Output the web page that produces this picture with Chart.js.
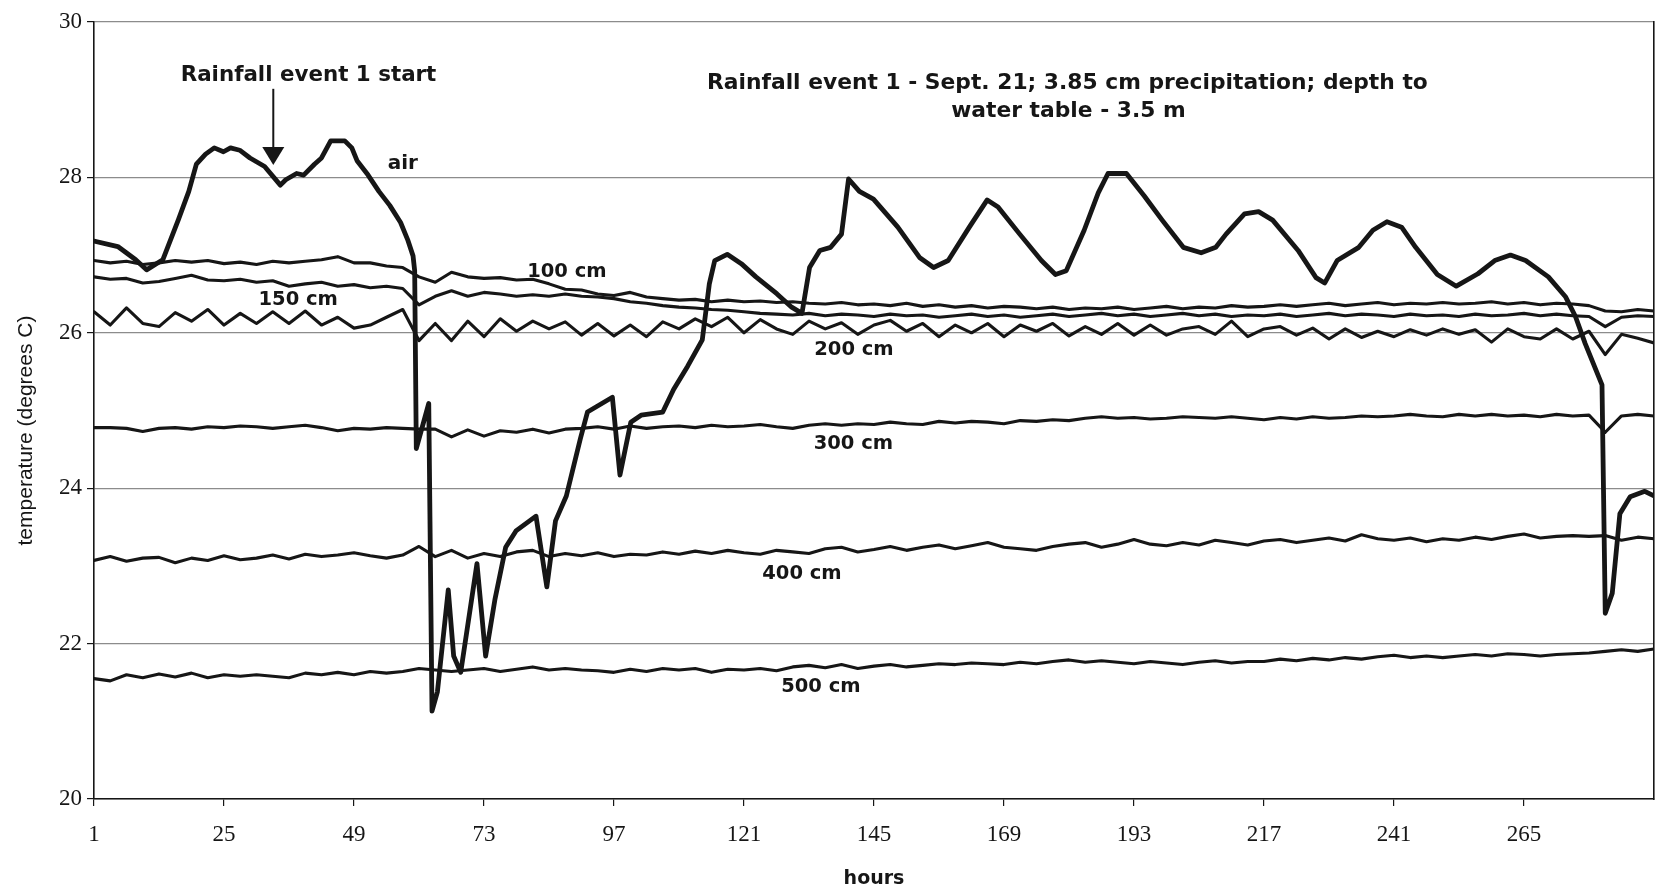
<!DOCTYPE html>
<html>
<head>
<meta charset="utf-8">
<title>Soil temperature - rainfall event 1</title>
<script src="https://cdn.jsdelivr.net/npm/chart.js@4.4.1/dist/chart.umd.min.js"></script>
<style>
  html, body { margin: 0; padding: 0; background: #fff; }
  #wrap { width: 1659px; height: 895px; }
</style>
</head>
<body>
<div id="wrap"><canvas id="tempChart"></canvas></div>
<script>
// x axis tick labels (hours)
const hourTicks = [1, 25, 49, 73, 97, 121, 145, 169, 193, 217, 241, 265];

// air temperature at its turning points
const airHours = [
  1, 5.4, 8.7, 10.7, 13.7, 16.6, 18.5, 19.9, 21.6, 23.2,
  24.9, 26.2, 27.9, 29.8, 32.5, 35.4, 36.4, 38.4, 39.7, 41.7,
  43.0, 44.7, 47.3, 48.6, 49.6, 51.6, 53.6, 55.6, 57.6, 58.9,
  59.9, 60.2, 60.5, 62.8, 63.4, 64.4, 66.4, 67.4, 68.7, 71.7,
  73.3, 75.0, 77.0, 78.9, 82.6, 84.6, 86.2, 88.2, 90.8, 92.1,
  96.7, 98.1, 100.1, 102, 106, 108, 110.6, 113.3, 114.6, 115.6,
  117.9, 120.5, 123.2, 127.1, 129.8, 131.7, 133.1, 135, 137, 139,
  140.3, 142.3, 144.9, 149.4, 153.4, 156, 158.7, 162.6, 165.9, 167.9,
  171.9, 175.9, 178.5, 180.5, 183.8, 186.4, 188.2, 191.6, 194.9, 198.2,
  202.1, 205.4, 208.1, 210, 213.4, 216, 218.6, 223.3, 226.6, 228.2,
  230.5, 234.5, 237.1, 239.7, 242.4, 245, 249, 252.5, 256.5, 259.6,
  262.5, 265.3, 269.5, 272.7, 274.5, 276.3, 279.4, 280.0, 281.3, 282.7,
  284.6, 287.3, 289
];
const airTemp = [
  27.18, 27.11, 26.94, 26.81, 26.94, 27.46, 27.82, 28.17, 28.3, 28.38,
  28.33, 28.38, 28.35, 28.25, 28.14, 27.9, 27.97, 28.05, 28.03, 28.17,
  28.25, 28.47, 28.47, 28.38, 28.21, 28.03, 27.82, 27.64, 27.42, 27.2,
  26.99, 26.8, 24.51, 25.09, 21.13, 21.38, 22.69, 21.84, 21.63, 23.03,
  21.84, 22.56, 23.24, 23.45, 23.64, 22.73, 23.58, 23.9, 24.64, 24.98,
  25.17, 24.17, 24.85, 24.94, 24.98, 25.27, 25.57, 25.91, 26.63, 26.93,
  27.01, 26.89, 26.72, 26.5, 26.33, 26.25, 26.84, 27.06, 27.1, 27.27,
  27.98, 27.82, 27.72, 27.36, 26.97, 26.84, 26.93, 27.36, 27.71, 27.62,
  27.27, 26.93, 26.75, 26.8, 27.32, 27.8, 28.05, 28.05, 27.76, 27.45,
  27.1, 27.03, 27.1, 27.27, 27.53, 27.56, 27.45, 27.06, 26.71, 26.64,
  26.93, 27.1, 27.32, 27.43, 27.36, 27.1, 26.75, 26.6, 26.76, 26.93,
  27.0, 26.93, 26.72, 26.46, 26.21, 25.86, 25.33, 22.39, 22.65, 23.67,
  23.89, 23.96, 23.9
];

// soil probes, read every 3 hours (1, 4, 7 ... 289); one row = one day
const soilHours = Array.from({ length: 97 }, (_, i) => 1 + 3 * i);

const t100 = [
  26.93, 26.9, 26.92, 26.88, 26.9, 26.93, 26.91, 26.93,
  26.89, 26.91, 26.88, 26.92, 26.9, 26.92, 26.94, 26.98,
  26.9, 26.9, 26.86, 26.84, 26.72, 26.65, 26.78, 26.72,
  26.7, 26.71, 26.68, 26.69, 26.63, 26.56, 26.55, 26.5,
  26.48, 26.52, 26.46, 26.44, 26.42, 26.43, 26.4, 26.42,
  26.4, 26.41, 26.39, 26.4, 26.38, 26.37, 26.39, 26.36,
  26.37, 26.35, 26.38, 26.34, 26.36, 26.33, 26.35, 26.32,
  26.34, 26.33, 26.31, 26.33, 26.3, 26.32, 26.31, 26.33,
  26.3, 26.32, 26.34, 26.31, 26.33, 26.32, 26.35, 26.33,
  26.34, 26.36, 26.34, 26.36, 26.38, 26.35, 26.37, 26.39,
  26.36, 26.38, 26.37, 26.39, 26.37, 26.38, 26.4, 26.37,
  26.39, 26.36, 26.38, 26.37, 26.35, 26.28, 26.27, 26.3,
  26.28
];
const t150 = [
  26.72, 26.69, 26.7, 26.64, 26.66, 26.7, 26.74, 26.68,
  26.67, 26.69, 26.65, 26.67, 26.6, 26.63, 26.65, 26.6,
  26.62, 26.58, 26.6, 26.57, 26.36, 26.47, 26.54, 26.47,
  26.52, 26.5, 26.47, 26.49, 26.47, 26.5, 26.47, 26.46,
  26.44, 26.4, 26.38, 26.35, 26.33, 26.32, 26.3, 26.29,
  26.27, 26.25, 26.24, 26.23, 26.25, 26.22, 26.24, 26.23,
  26.21, 26.24, 26.22, 26.23, 26.2, 26.22, 26.24, 26.21,
  26.23, 26.2, 26.22, 26.24, 26.21, 26.23, 26.25, 26.22,
  26.24, 26.21, 26.23, 26.25, 26.22, 26.24, 26.21, 26.23,
  26.22, 26.24, 26.21, 26.23, 26.25, 26.22, 26.24, 26.23,
  26.21, 26.24, 26.22, 26.23, 26.21, 26.24, 26.22, 26.23,
  26.25, 26.22, 26.24, 26.22, 26.21, 26.08, 26.2, 26.22,
  26.21
];
const t200 = [
  26.27, 26.1, 26.32, 26.12, 26.08, 26.26, 26.15, 26.3,
  26.1, 26.25, 26.12, 26.27, 26.12, 26.28, 26.1, 26.2,
  26.06, 26.1, 26.2, 26.3, 25.9, 26.12, 25.9, 26.15,
  25.95, 26.18, 26.02, 26.15, 26.05, 26.14, 25.97, 26.12,
  25.96, 26.1, 25.95, 26.14, 26.05, 26.18, 26.08, 26.2,
  26.0, 26.17, 26.05, 25.98, 26.15, 26.05, 26.13, 25.98,
  26.1, 26.16, 26.02, 26.12, 25.95, 26.1, 26.0, 26.12,
  25.95, 26.1, 26.02, 26.12, 25.96, 26.08, 25.98, 26.12,
  25.97, 26.1, 25.97, 26.05, 26.08, 25.98, 26.15, 25.95,
  26.05, 26.08, 25.97, 26.06, 25.92, 26.05, 25.94, 26.02,
  25.95, 26.04, 25.97, 26.05, 25.98, 26.04, 25.88, 26.05,
  25.95, 25.92, 26.05, 25.92, 26.02, 25.72, 25.98, 25.93,
  25.87
];
const t300 = [
  24.78, 24.78, 24.77, 24.73, 24.77, 24.78, 24.76, 24.79,
  24.78, 24.8, 24.79, 24.77, 24.79, 24.81, 24.78, 24.74,
  24.77, 24.76, 24.78, 24.77, 24.76, 24.76, 24.66, 24.75,
  24.67, 24.74, 24.72, 24.76, 24.71, 24.76, 24.77, 24.79,
  24.76, 24.8, 24.77, 24.79, 24.8, 24.78, 24.81, 24.79,
  24.8, 24.82, 24.79, 24.77, 24.81, 24.83, 24.81, 24.83,
  24.82, 24.85, 24.83, 24.82, 24.86, 24.84, 24.86, 24.85,
  24.83, 24.87, 24.86, 24.88, 24.87, 24.9, 24.92, 24.9,
  24.91, 24.89, 24.9, 24.92, 24.91, 24.9, 24.92, 24.9,
  24.88, 24.91, 24.89, 24.92, 24.9, 24.91, 24.93, 24.92,
  24.93, 24.95, 24.93, 24.92, 24.95, 24.93, 24.95, 24.93,
  24.94, 24.92, 24.95, 24.93, 24.94, 24.72, 24.93, 24.95,
  24.93
];
const t400 = [
  23.07, 23.12, 23.06, 23.1, 23.11, 23.04, 23.1, 23.07,
  23.13, 23.08, 23.1, 23.14, 23.09, 23.15, 23.12, 23.14,
  23.17, 23.13, 23.1, 23.14, 23.25, 23.12, 23.2, 23.1,
  23.16, 23.12, 23.18, 23.2, 23.12, 23.16, 23.13, 23.17,
  23.12, 23.15, 23.14, 23.18, 23.15, 23.19, 23.16, 23.2,
  23.17, 23.15, 23.2, 23.18, 23.16, 23.22, 23.24, 23.18,
  23.21, 23.25, 23.2, 23.24, 23.27, 23.22, 23.26, 23.3,
  23.24, 23.22, 23.2, 23.25, 23.28, 23.3, 23.24, 23.28,
  23.34, 23.28, 23.26, 23.3, 23.27, 23.33, 23.3, 23.27,
  23.32, 23.34, 23.3, 23.33, 23.36, 23.32, 23.4, 23.35,
  23.33, 23.36, 23.31, 23.35, 23.33, 23.37, 23.34, 23.38,
  23.41, 23.36, 23.38, 23.39, 23.38, 23.39, 23.33, 23.37,
  23.35
];
const t500 = [
  21.55, 21.52, 21.6, 21.56, 21.61, 21.57, 21.62, 21.56,
  21.6, 21.58, 21.6, 21.58, 21.56, 21.62, 21.6, 21.63,
  21.6, 21.64, 21.62, 21.64, 21.68, 21.66, 21.64, 21.66,
  21.68, 21.64, 21.67, 21.7, 21.66, 21.68, 21.66, 21.65,
  21.63, 21.67, 21.64, 21.68, 21.66, 21.68, 21.63, 21.67,
  21.66, 21.68, 21.65, 21.7, 21.72, 21.69, 21.73, 21.68,
  21.71, 21.73, 21.7, 21.72, 21.74, 21.73, 21.75, 21.74,
  21.73, 21.76, 21.74, 21.77, 21.79, 21.76, 21.78, 21.76,
  21.74, 21.77, 21.75, 21.73, 21.76, 21.78, 21.75, 21.77,
  21.77, 21.8, 21.78, 21.81, 21.79, 21.82, 21.8, 21.83,
  21.85, 21.82, 21.84, 21.82, 21.84, 21.86, 21.84, 21.87,
  21.86, 21.84, 21.86, 21.87, 21.88, 21.9, 21.92, 21.9,
  21.93
];

const ink = '#161616';
const serif = "'Liberation Serif', 'Times New Roman', serif";
const sans = "'Liberation Sans', Arial, sans-serif";
const heavy = "'DejaVu Sans', Verdana, sans-serif";

function pairs(xs, ys) {
  return xs.map((h, i) => ({ x: h, y: ys[i] }));
}

const soil = [
  ['100 cm', t100], ['150 cm', t150], ['200 cm', t200],
  ['300 cm', t300], ['400 cm', t400], ['500 cm', t500]
];

const datasets = [
  { label: 'air', data: pairs(airHours, airTemp), borderWidth: 4.8 }
].concat(soil.map(([name, vals]) => ({
  label: name, data: pairs(soilHours, vals), borderWidth: 3.1
})));

// text placed in data units so it follows the axes
const notes = [
  { text: 'Rainfall event 1 start', h: 40.6, t: 29.31, size: 21.4 },
  { text: 'Rainfall event 1 - Sept. 21; 3.85 cm precipitation; depth to', h: 180.7, t: 29.21, size: 21.8 },
  { text: 'water table - 3.5 m', h: 180.9, t: 28.85, size: 21.8 },
  { text: 'air', h: 58, t: 28.17, size: 20 },
  { text: '100 cm', h: 88.3, t: 26.78, size: 19.5 },
  { text: '150 cm', h: 38.7, t: 26.42, size: 19.5 },
  { text: '200 cm', h: 141.3, t: 25.78, size: 19.5 },
  { text: '300 cm', h: 141.2, t: 24.57, size: 19.5 },
  { text: '400 cm', h: 131.7, t: 22.9, size: 19.5 },
  { text: '500 cm', h: 135.2, t: 21.44, size: 19.5 }
];
const arrow = { h: 34.1, from: 29.14, to: 28.16 };

const notesPlugin = {
  id: 'notes',
  afterDatasetsDraw(chart) {
    const { ctx, scales: { x, y }, chartArea } = chart;
    ctx.save();
    ctx.fillStyle = ink;
    ctx.strokeStyle = ink;
    ctx.textAlign = 'center';
    ctx.textBaseline = 'middle';
    notes.forEach(n => {
      ctx.font = `bold ${n.size}px ${heavy}`;
      ctx.fillText(n.text, x.getPixelForValue(n.h), y.getPixelForValue(n.t));
    });

    // arrow pointing at the start of the rain
    const ax = x.getPixelForValue(arrow.h);
    const y0 = y.getPixelForValue(arrow.from);
    const y1 = y.getPixelForValue(arrow.to);
    ctx.lineWidth = 2;
    ctx.beginPath();
    ctx.moveTo(ax, y0);
    ctx.lineTo(ax, y1 - 16);
    ctx.stroke();
    ctx.beginPath();
    ctx.moveTo(ax - 11, y1 - 18);
    ctx.lineTo(ax + 11, y1 - 18);
    ctx.lineTo(ax, y1);
    ctx.closePath();
    ctx.fill();

    // y axis title, sits a little below centre like the original
    ctx.font = `21px ${sans}`;
    ctx.translate(26, (chartArea.top + chartArea.bottom) / 2 + 20);
    ctx.rotate(-Math.PI / 2);
    ctx.fillText('temperature (degrees C)', 0, 0);
    ctx.restore();
  }
};

new Chart(document.getElementById('tempChart'), {
  type: 'line',
  data: { datasets },
  plugins: [notesPlugin],
  options: {
    responsive: true,
    maintainAspectRatio: false,
    animation: false,
    layout: { padding: { top: 22, right: 5, bottom: 0, left: 0 } },
    elements: {
      point: { radius: 0 },
      line: { tension: 0, borderColor: ink, borderJoinStyle: 'round', borderCapStyle: 'round' }
    },
    plugins: {
      legend: { display: false },
      tooltip: { enabled: false }
    },
    scales: {
      x: {
        type: 'linear',
        min: 1,
        max: 289,
        afterBuildTicks: axis => { axis.ticks = hourTicks.map(v => ({ value: v })); },
        afterFit: axis => { axis.height = 96; },
        grid: { drawOnChartArea: false, drawTicks: true, tickLength: 7, color: ink, lineWidth: 1.2 },
        border: { color: ink, width: 1.6 },
        ticks: { autoSkip: false, maxRotation: 0, padding: 15, color: ink, font: { family: serif, size: 23 } },
        title: {
          display: true, text: 'hours', color: ink,
          font: { family: heavy, size: 19, weight: 'bold' },
          padding: { top: 0, bottom: 5 }
        }
      },
      y: {
        min: 20,
        max: 30,
        afterFit: axis => { axis.width = 94; },
        grid: { color: '#8c8c8c', lineWidth: 1.2, tickLength: 7, tickColor: ink },
        border: { color: ink, width: 1.6 },
        ticks: { stepSize: 2, padding: 5, color: ink, font: { family: serif, size: 23 } }
      },
      yRight: {
        position: 'right',
        min: 20,
        max: 30,
        afterFit: axis => { axis.width = 0; },
        grid: { display: false },
        ticks: { display: false },
        border: { display: true, color: ink, width: 1.6 }
      }
    }
  }
});
</script>
</body>
</html>
